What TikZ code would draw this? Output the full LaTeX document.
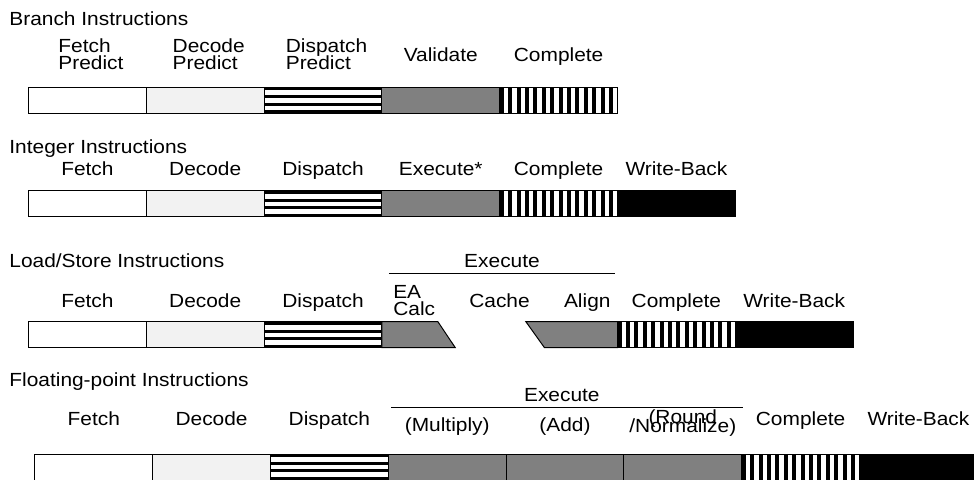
\documentclass[tikz,border=0pt]{standalone}
\usepackage{fontspec}
\setmainfont{Liberation Sans}[FakeStretch=1.1]
\usetikzlibrary{positioning}
\lineskiplimit=-20pt

\begin{document}
\begin{tikzpicture}[
  x=0.5pt, y=-0.5pt,
  font=\fontsize{9.5}{8.5}\selectfont,
  node distance=0pt,
  stagebox/.style={
    draw=black,
    line width=0.5pt,
    minimum width=58.9pt,
    minimum height=13pt,
    inner sep=0pt,
    outer sep=0pt
  },
  fetchbox/.style={stagebox, fill=white},
  decodebox/.style={stagebox, fill=black!5},
  dispbox/.style={
    stagebox,
    fill=white,
    path picture={
      \foreach \a/\b in {0/1.5, 3.9/5.4, 7.6/9.1, 11.5/13}
        \fill[black] ([yshift=-\a*1pt]path picture bounding box.north west)
          rectangle ([yshift=-\b*1pt]path picture bounding box.north east);
    }
  },
  execbox/.style={stagebox, fill=black!50},
  compbox/.style={
    stagebox,
    fill=white,
    path picture={
      \foreach \i in {0,...,13}
        \fill[black] ([xshift=\i*4.2pt]path picture bounding box.north west)
          rectangle ([xshift=\i*4.2pt+2pt]path picture bounding box.south west);
    }
  },
  wbbox/.style={stagebox, fill=black},
  execshape/.style={draw=black, fill=black!50, line width=0.5pt},
  execrule/.style={draw=black, line width=0.5pt},
  rowtitle/.style={inner sep=0pt, anchor=base west},
  stagelbl/.style={inner sep=0pt, anchor=base},
  twolbl/.style={stagelbl, align=left}
]
\useasboundingbox (0,0) rectangle (974,479);
\clip (0,0) rectangle (974,479);

% branch
\node[rowtitle] (btitle) at (9,25) {Branch Instructions};
\node[fetchbox] (bfetch) at (87.4,100.3) {};
\node[decodebox, right=of bfetch] (bdecode) {};
\node[dispbox, right=of bdecode] (bdisp) {};
\node[execbox, right=of bdisp] (bvalid) {};
\node[compbox, right=of bvalid] (bcomp) {};
\node[twolbl] (bfetchl) at ([xshift=1.75pt,yshift=9.15pt]bfetch.north) {Fetch\\Predict};
\node[twolbl] (bdecodel) at ([xshift=1.75pt,yshift=9.15pt]bdecode.north) {Decode\\Predict};
\node[twolbl] (bdispl) at ([xshift=1.75pt,yshift=9.15pt]bdisp.north) {Dispatch\\Predict};
\node[stagelbl] (bvalidl) at ([yshift=12.8pt]bvalid.north) {Validate};
\node[stagelbl] (bcompl) at ([yshift=12.8pt]bcomp.north) {Complete};

% integer
\node[rowtitle] (ititle) at (9,153.3) {Integer Instructions};
\node[fetchbox] (ifetch) at (87.4,203.7) {};
\node[decodebox, right=of ifetch] (idecode) {};
\node[dispbox, right=of idecode] (idisp) {};
\node[execbox, right=of idisp] (iexec) {};
\node[compbox, right=of iexec] (icomp) {};
\node[wbbox, right=of icomp] (iwb) {};
\node[stagelbl] (ifetchl) at ([yshift=7.85pt]ifetch.north) {Fetch};
\node[stagelbl] (idecodel) at ([yshift=7.85pt]idecode.north) {Decode};
\node[stagelbl] (idispl) at ([yshift=7.85pt]idisp.north) {Dispatch};
\node[stagelbl] (iexecl) at ([yshift=7.85pt]iexec.north) {Execute*};
\node[stagelbl] (icompl) at ([yshift=7.85pt]icomp.north) {Complete};
\node[stagelbl] (iwbl) at ([yshift=7.85pt]iwb.north) {Write-Back};

% load/store
\node[rowtitle] (ltitle) at (9,267.7) {Load/Store Instructions};
\node[fetchbox] (lfetch) at (87.4,334.7) {};
\node[decodebox, right=of lfetch] (ldecode) {};
\node[dispbox, right=of ldecode] (ldisp) {};
\node[compbox, right=117.8pt of ldisp] (lcomp) {};
\node[wbbox, right=of lcomp] (lwb) {};
\draw[execshape] (ldisp.north east) -- ++(28pt,0) -- ++(8.7pt,-13pt) -- (ldisp.south east) -- cycle;
\draw[execshape] (lcomp.north west) -- ++(-45.8pt,0) -- ++(9.3pt,-13pt) -- (lcomp.south west) -- cycle;
\node[stagelbl] (lfetchl) at ([yshift=7.3pt]lfetch.north) {Fetch};
\node[stagelbl] (ldecodel) at ([yshift=7.3pt]ldecode.north) {Decode};
\node[stagelbl] (ldispl) at ([yshift=7.3pt]ldisp.north) {Dispatch};
\node[twolbl, anchor=base west] (leal) at ([xshift=5.5pt,yshift=3.15pt]ldisp.north east) {EA\\Calc};
\node[stagelbl] (lcachel) at ([xshift=-59pt,yshift=7.3pt]lcomp.north west) {Cache};
\node[stagelbl, anchor=base east] (lalignl) at ([xshift=-3.3pt,yshift=7.3pt]lcomp.north west) {Align};
\node[stagelbl] (lcompl) at ([yshift=7.3pt]lcomp.north) {Complete};
\node[stagelbl] (lwbl) at ([yshift=7.3pt]lwb.north) {Write-Back};
\coordinate (lexl) at ([xshift=3.5pt,yshift=24.3pt]ldisp.north east);
\coordinate (lexr) at ([xshift=-1.2pt,yshift=24.3pt]lcomp.north west);
\draw[execrule] (lexl) -- (lexr) node[stagelbl, midway, yshift=2.7pt] (lexec) {Execute};

% floating point
\node[rowtitle] (ftitle) at (9,386.7) {Floating-point Instructions};
\node[fetchbox] (ffetch) at (93.8,467) {};
\node[decodebox, right=of ffetch] (fdecode) {};
\node[dispbox, right=of fdecode] (fdisp) {};
\node[execbox, right=of fdisp] (fmul) {};
\node[execbox, right=of fmul] (fadd) {};
\node[execbox, right=of fadd] (fround) {};
\node[compbox, right=of fround] (fcomp) {};
\node[wbbox, right=of fcomp] (fwb) {};
\node[stagelbl] (ffetchl) at ([yshift=14.5pt]ffetch.north) {Fetch};
\node[stagelbl] (fdecodel) at ([yshift=14.5pt]fdecode.north) {Decode};
\node[stagelbl] (fdispl) at ([yshift=14.5pt]fdisp.north) {Dispatch};
\node[stagelbl] (fmull) at ([yshift=11.5pt]fmul.north) {(Multiply)};
\node[stagelbl] (faddl) at ([yshift=11.5pt]fadd.north) {(Add)};
\node[stagelbl, align=center, font=\fontsize{9.5}{4.7}\selectfont] (froundl) at ([yshift=10.65pt]fround.north) {(Round\\/Normalize)};
\node[stagelbl] (fcompl) at ([yshift=14.5pt]fcomp.north) {Complete};
\node[stagelbl] (fwbl) at ([yshift=14.5pt]fwb.north) {Write-Back};
\coordinate (fexl) at ([xshift=1.35pt,yshift=23.35pt]fdisp.north east);
\coordinate (fexr) at ([xshift=0.5pt,yshift=23.35pt]fcomp.north west);
\draw[execrule] (fexl) -- (fexr) node[stagelbl, midway, xshift=-2.5pt, yshift=2.8pt] (fexec) {Execute};
\end{tikzpicture}
\end{document}
